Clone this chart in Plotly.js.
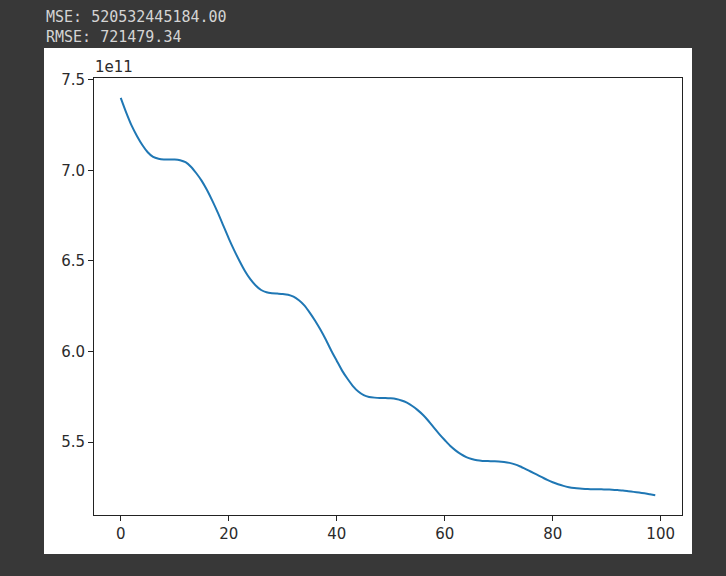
<!DOCTYPE html>
<html>
<head>
<meta charset="utf-8">
<script src="https://cdn.plot.ly/plotly-3.0.1.min.js"></script>
<style>html,body{margin:0;padding:0;background:#383838;}#chart{width:726px;height:576px;}</style>
</head>
<body>
<div id="chart"></div>
<script>
// Loss curve values, in units of 1e11, for epochs 0..99
const valuesE11 = [
7.400,7.320,7.248,7.190,7.140,7.100,7.074,7.064,7.060,7.060,
7.060,7.056,7.045,7.020,6.984,6.942,6.890,6.830,6.765,6.695,
6.625,6.560,6.500,6.445,6.400,6.365,6.340,6.327,6.322,6.320,
6.318,6.314,6.303,6.283,6.255,6.215,6.170,6.120,6.065,6.005,
5.950,5.895,5.850,5.810,5.780,5.760,5.750,5.746,5.744,5.744,
5.742,5.738,5.730,5.718,5.700,5.677,5.650,5.617,5.580,5.545,
5.512,5.480,5.455,5.434,5.418,5.407,5.400,5.397,5.396,5.395,
5.394,5.391,5.386,5.378,5.366,5.352,5.337,5.322,5.307,5.292,
5.279,5.268,5.259,5.252,5.247,5.244,5.242,5.241,5.240,5.240,
5.239,5.238,5.236,5.233,5.230,5.226,5.222,5.218,5.213,5.208
];
const epochs = valuesE11.map((_, i) => i);
const xTicks = [0, 20, 40, 60, 80, 100];
const yTicks = [5.5, 6.0, 6.5, 7.0, 7.5];
const yTickLabels = ["5.5", "6.0", "6.5", "7.0", "7.5"];
const headerLines = ["MSE: 520532445184.00", "RMSE: 721479.34"];
const offsetText = "1e11";

const xmin = Math.min(...epochs), xmax = Math.max(...epochs);
const ymin = Math.min(...valuesE11), ymax = Math.max(...valuesE11);
const xm = (xmax - xmin) * 0.05, ym = (ymax - ymin) * 0.05;

const L = 94, R = 44, T = 78, B = 61, W = 726, H = 576;
const pw = W - L - R, ph = H - T - B;
const px = v => (v - L) / pw;
const py = v => (H - B - v) / ph;

const tickFont = {family: "DejaVu Sans", size: 15, color: "#2b2b2b"};

const data = [{
  x: epochs, y: valuesE11, type: "scatter", mode: "lines",
  line: {color: "#1f77b4", width: 2, shape: "spline", smoothing: 0.6}, hoverinfo: "skip"
}];

const layout = {
  width: W, height: H,
  margin: {l: L, r: R, t: T, b: B},
  paper_bgcolor: "#383838",
  plot_bgcolor: "#ffffff",
  showlegend: false,
  xaxis: {
    range: [xmin - xm, xmax + xm], tickvals: xTicks, ticktext: xTicks.map(String),
    showgrid: false, zeroline: false, showline: true, mirror: true,
    linecolor: "#222", linewidth: 1, ticks: "outside", ticklen: 5, tickwidth: 1,
    tickcolor: "#222", tickfont: tickFont
  },
  yaxis: {
    range: [ymin - ym, ymax + ym], tickvals: yTicks, ticktext: yTickLabels,
    showgrid: false, zeroline: false, showline: true, mirror: true,
    linecolor: "#222", linewidth: 1, ticks: "outside", ticklen: 5, tickwidth: 1,
    tickcolor: "#222", tickfont: tickFont
  },
  shapes: [{
    type: "rect", xref: "paper", yref: "paper", layer: "below",
    x0: px(44), x1: px(692), y0: py(554), y1: py(48),
    fillcolor: "#ffffff", line: {width: 0}
  }],
  annotations: [
    {xref: "paper", yref: "paper", x: px(44), y: py(17), xanchor: "left", yanchor: "middle",
     text: headerLines[0], showarrow: false,
     font: {family: "DejaVu Sans Mono", size: 15, color: "#d4d4d4"}},
    {xref: "paper", yref: "paper", x: px(44), y: py(37), xanchor: "left", yanchor: "middle",
     text: headerLines[1], showarrow: false,
     font: {family: "DejaVu Sans Mono", size: 15, color: "#d4d4d4"}},
    {xref: "paper", yref: "paper", x: px(93), y: py(67), xanchor: "left", yanchor: "middle",
     text: offsetText, showarrow: false, font: tickFont}
  ]
};

Plotly.newPlot("chart", data, layout, {displayModeBar: false, staticPlot: true});
</script>
</body>
</html>
